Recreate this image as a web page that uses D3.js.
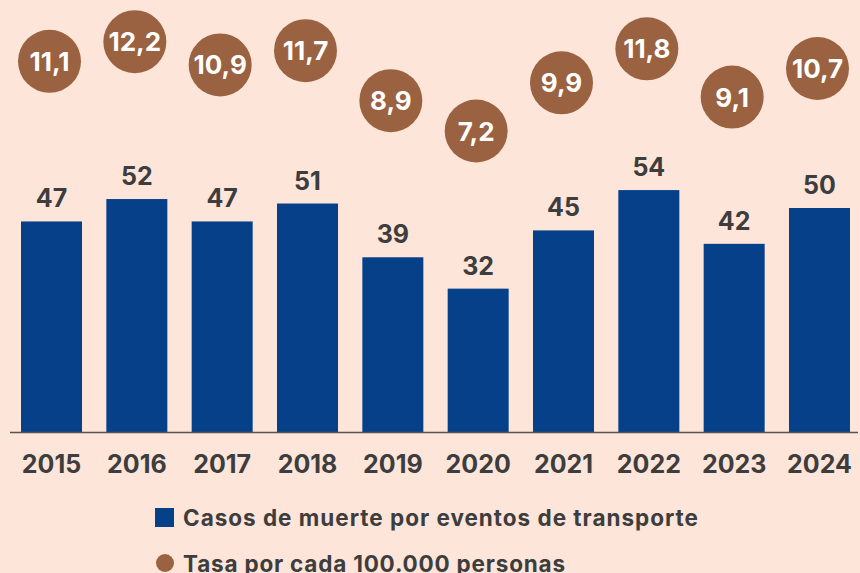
<!DOCTYPE html>
<html>
<head>
<meta charset="utf-8">
<script src="https://cdn.jsdelivr.net/npm/d3@7/dist/d3.min.js"></script>
<style>
  html, body { margin: 0; padding: 0; background: #fde5da; }
  svg { display: block; font-family: Inter, "Open Sans", sans-serif; }
</style>
</head>
<body>
<svg id="chart" width="860" height="573"></svg>
<script>
// Data: deaths from transport events and rate per 100,000 people
const years = ["2015", "2016", "2017", "2018", "2019", "2020", "2021", "2022", "2023", "2024"];
const deaths = [47, 52, 47, 51, 39, 32, 45, 54, 42, 50];
const rates = [11.1, 12.2, 10.9, 11.7, 8.9, 7.2, 9.9, 11.8, 9.1, 10.7];
const legendLabels = ["Casos de muerte por eventos de transporte", "Tasa por cada 100.000 personas"];

const colors = { bar: "#064088", dot: "#9a6240", text: "#3d3d3d", axis: "#555555" };

const svg = d3.select("#chart");

const x = d3.scaleBand().domain(years).range([21, 850]).paddingInner(0.285).paddingOuter(0);
const y = d3.scaleLinear().domain([0, 60]).range([432, 163.2]);
const yRate = d3.scaleLinear().domain([7.2, 12.2]).range([131, 41.7]);

const fmtRate = v => d3.format(".1f")(v).replace(".", ",");

const rows = years.map((yr, i) => ({ year: yr, deaths: deaths[i], rate: rates[i] }));

// Bars
svg.append("g").selectAll("rect").data(rows).join("rect")
  .attr("x", d => x(d.year))
  .attr("y", d => y(d.deaths))
  .attr("width", x.bandwidth())
  .attr("height", d => y(0) - y(d.deaths))
  .attr("fill", colors.bar);

// Bar value labels
svg.append("g").selectAll("text").data(rows).join("text")
  .attr("x", d => x(d.year) + x.bandwidth() / 2)
  .attr("y", d => y(d.deaths) - 14)
  .attr("text-anchor", "middle")
  .attr("font-size", 25)
  .attr("font-weight", 700)
  .attr("fill", colors.text)
  .text(d => d.deaths);

// Baseline axis with year labels
const xAxis = svg.append("g").attr("transform", `translate(0,${y(0)})`)
  .call(d3.axisBottom(x).tickSize(0).tickPadding(23));
xAxis.select(".domain").attr("d", "M10,0.5H858").attr("stroke", colors.axis).attr("stroke-width", 1.5);
xAxis.selectAll("text")
  .attr("font-family", "Inter, 'Open Sans', sans-serif")
  .attr("font-size", 25)
  .attr("font-weight", 700)
  .attr("fill", colors.text);

// Rate bubbles
const bubbles = svg.append("g").selectAll("g").data(rows).join("g")
  .attr("transform", d => `translate(${x(d.year) + x.bandwidth() / 2 - 2},${yRate(d.rate)})`);
bubbles.append("circle").attr("r", 31.5).attr("fill", colors.dot);
bubbles.append("text")
  .attr("y", 9.5)
  .attr("text-anchor", "middle")
  .attr("font-size", 26)
  .attr("font-weight", 700)
  .attr("fill", "#ffffff")
  .text(d => fmtRate(d.rate));

// Legend
const legend = svg.append("g");
legend.append("rect").attr("x", 155).attr("y", 508).attr("width", 19).attr("height", 19).attr("fill", colors.bar);
legend.append("text").attr("x", 183).attr("y", 525.5)
  .attr("font-size", 22.5).attr("font-weight", 700).attr("fill", colors.text)
  .attr("textLength", 515).attr("lengthAdjust", "spacing")
  .text(legendLabels[0]);
legend.append("circle").attr("cx", 165).attr("cy", 563).attr("r", 9).attr("fill", colors.dot);
legend.append("text").attr("x", 183).attr("y", 571.5)
  .attr("font-size", 22.5).attr("font-weight", 700).attr("fill", colors.text)
  .attr("textLength", 382).attr("lengthAdjust", "spacing")
  .text(legendLabels[1]);
</script>
</body>
</html>
